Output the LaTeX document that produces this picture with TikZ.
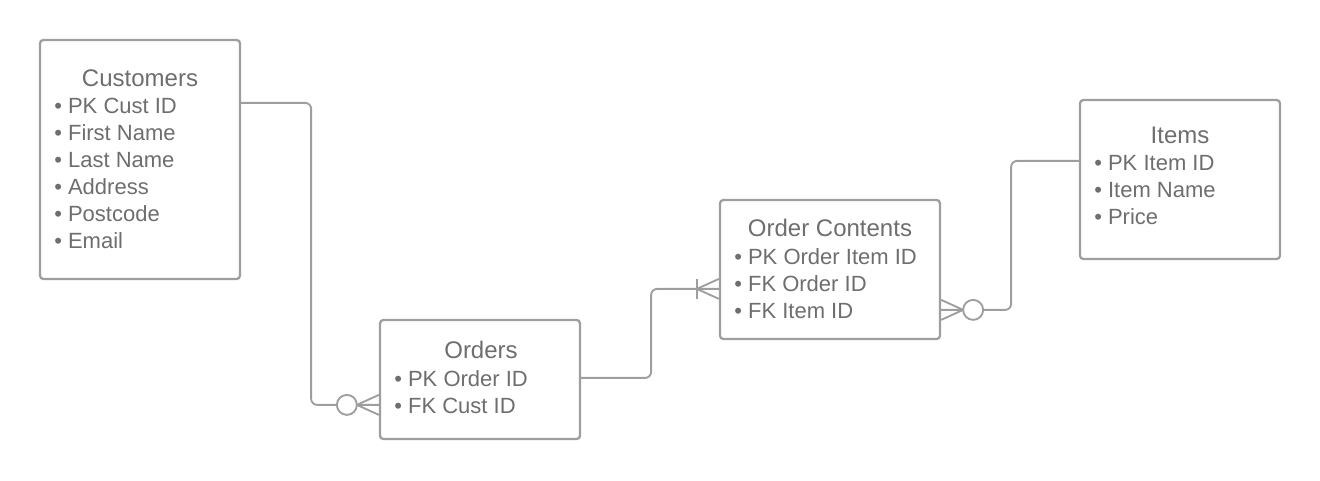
\documentclass[tikz,border=0pt]{standalone}
\usepackage{fontspec}
\setmainfont{Liberation Sans}
\usetikzlibrary{calc}
\definecolor{lc}{RGB}{158,158,158}
\definecolor{tc}{RGB}{110,110,110}
\begin{document}
\begin{tikzpicture}[x=0.75pt,y=-0.75pt,
  entity/.style={draw=lc,line width=1.7pt,rounded corners=2.5pt,fill=white,inner sep=0pt},
  ttl/.style={anchor=base,text=tc,font=\fontsize{18}{20}\selectfont,inner sep=0pt},
  itm/.style={anchor=base west,text=tc,font=\fontsize{16.5}{20}\selectfont,inner sep=0pt},
  conn/.style={draw=lc,line width=1.4pt,rounded corners=4.5pt},
  footline/.style={draw=lc,line width=1.4pt},
  ring/.style={draw=lc,line width=1.4pt,fill=white}]
\useasboundingbox (0,0) rectangle (1320,480);

% entities
\node[entity,minimum width=150pt,minimum height=179.25pt] (cust) at (140,159.5) {};
\node[entity,minimum width=150pt,minimum height=89.25pt] (orders) at (480,379.5) {};
\node[entity,minimum width=165pt,minimum height=104.25pt] (oc) at (830,269.5) {};
\node[entity,minimum width=150pt,minimum height=119.25pt] (items) at (1180,179.5) {};

% Customers
\node[ttl] (custT) at (140,86) {Customers};
\node[itm] (c1) at (54,113) {• PK Cust ID};
\node[itm] (c2) at (54,140) {• First Name};
\node[itm] (c3) at (54,167) {• Last Name};
\node[itm] (c4) at (54,194) {• Address};
\node[itm] (c5) at (54,221) {• Postcode};
\node[itm] (c6) at (54,248) {• Email};

% Orders
\node[ttl] (ordT) at (481,358) {Orders};
\node[itm] (o1) at (394,386) {• PK Order ID};
\node[itm] (o2) at (394,413) {• FK Cust ID};

% Order Contents
\node[ttl] (ocT) at (830,236) {Order Contents};
\node[itm] (oc1) at (734,264) {• PK Order Item ID};
\node[itm] (oc2) at (734,291) {• FK Order ID};
\node[itm] (oc3) at (734,318) {• FK Item ID};

% Items
\node[ttl] (itT) at (1180,143) {Items};
\node[itm] (i1) at (1094,170) {• PK Item ID};
\node[itm] (i2) at (1094,197) {• Item Name};
\node[itm] (i3) at (1094,224) {• Price};

% Customers -> Orders (zero or many)
\draw[conn] ($(cust.north east)+(0,64)$) -- ++(70,0) |- ($(orders.north west)+(0,86)$);
\draw[ring] ($(orders.north west)+(-32,86)$) circle[radius=7.5pt];
\draw[footline] ($(orders.north west)+(-22,86)$) -- ($(orders.north west)+(0,76)$)
            ($(orders.north west)+(-22,86)$) -- ($(orders.north west)+(0,96)$);

% Orders -> Order Contents (one or many)
\draw[conn] ($(orders.north east)+(0,59)$) -- ++(70,0) |- ($(oc.north west)+(0,90)$);
\draw[footline] ($(oc.north west)+(-22,80)$) -- ($(oc.north west)+(-22,100)$);
\draw[footline] ($(oc.north west)+(-22,90)$) -- ($(oc.north west)+(0,80)$)
            ($(oc.north west)+(-22,90)$) -- ($(oc.north west)+(0,100)$);

% Order Contents -> Items (zero or many at Order Contents)
\draw[conn] ($(oc.north east)+(0,111)$) -- ++(70,0) |- ($(items.north west)+(0,62)$);
\draw[ring] ($(oc.north east)+(32,111)$) circle[radius=7.5pt];
\draw[footline] ($(oc.north east)+(22,111)$) -- ($(oc.north east)+(0,101)$)
            ($(oc.north east)+(22,111)$) -- ($(oc.north east)+(0,121)$);
\end{tikzpicture}
\end{document}
